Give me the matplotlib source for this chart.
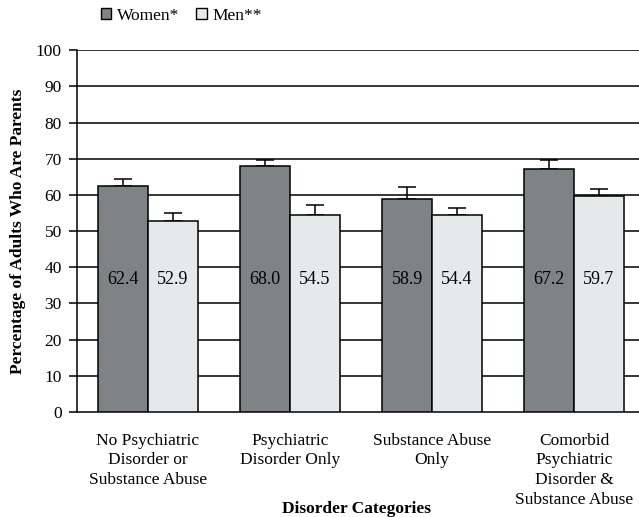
import matplotlib
matplotlib.use("Agg")
import matplotlib.pyplot as plt
from matplotlib.patches import Patch
import numpy as np

plt.rcParams['font.family'] = ['Liberation Serif', 'DejaVu Serif']

categories = ["No Psychiatric\nDisorder or\nSubstance Abuse",
              "Psychiatric\nDisorder Only",
              "Substance Abuse\nOnly",
              "Comorbid\nPsychiatric\nDisorder &\nSubstance Abuse"]
women = [62.4, 68.0, 58.9, 67.2]
men = [52.9, 54.5, 54.4, 59.7]
women_err = [2.1, 1.6, 3.3, 2.4]
men_err = [2.0, 2.6, 2.0, 1.9]
yticks = [0, 10, 20, 30, 40, 50, 60, 70, 80, 90, 100]

women_color = "#7e8385"
men_color = "#e6e9ea"

fig = plt.figure(figsize=(6.39, 5.17), dpi=100)
ax = fig.add_axes([77/639, 105/517, (639-77)/639, (412.5-50.7)/517])

x = np.arange(len(categories))
w = 0.35
slot_px = 142.0
ax.set_xlim(-0.5, -0.5 + (639-77)/slot_px)
ax.set_ylim(0, 100)

for yv in yticks[1:]:
    ax.axhline(yv, color="black", lw=1.1, zorder=1)

ax.bar(x - w/2, women, w, color=women_color, edgecolor="black", lw=1.1, zorder=3,
       yerr=[np.zeros(4), women_err], error_kw=dict(ecolor="black", elinewidth=1.1, capsize=6.5, capthick=1.1, zorder=2))
ax.bar(x + w/2, men, w, color=men_color, edgecolor="black", lw=1.1, zorder=3,
       yerr=[np.zeros(4), men_err], error_kw=dict(ecolor="black", elinewidth=1.1, capsize=6.5, capthick=1.1, zorder=2))

for i in range(len(categories)):
    ax.text(x[i] - w/2, 36.5, f"{women[i]:.1f}", ha="center", va="center", fontsize=13, zorder=5)
    ax.text(x[i] + w/2, 36.5, f"{men[i]:.1f}", ha="center", va="center", fontsize=13, zorder=5)

ax.set_yticks(yticks)
ax.set_yticklabels([str(t) for t in yticks], fontsize=12.5)
ax.tick_params(axis="y", length=6, width=1.1, pad=5)
ax.set_xticks(x)
ax.set_xticklabels(categories, fontsize=12.5, linespacing=1.3)
ax.tick_params(axis="x", length=0, pad=15)
for s in ["top", "right"]:
    ax.spines[s].set_visible(False)
ax.spines["left"].set_linewidth(1.1)
ax.spines["bottom"].set_linewidth(1.1)

ax.set_ylabel("Percentage of Adults Who Are Parents", fontsize=12.5, fontweight="bold", labelpad=7)
fig.text(357/639, 1 - 509/517, "Disorder Categories",
         ha="center", va="center", fontsize=12.5, fontweight="bold")

handles = [Patch(facecolor=women_color, edgecolor="black", lw=1.0),
           Patch(facecolor=men_color, edgecolor="black", lw=1.0)]
fig.legend(handles, ["Women*", "Men**"], loc="center left", bbox_to_anchor=(101/639, 1 - 16/517),
           ncol=2, frameon=False, fontsize=12.5, handlelength=0.6, handleheight=0.6,
           handletextpad=0.3, columnspacing=1.0, borderaxespad=0, borderpad=0)

fig.savefig("out.png", dpi=100)
